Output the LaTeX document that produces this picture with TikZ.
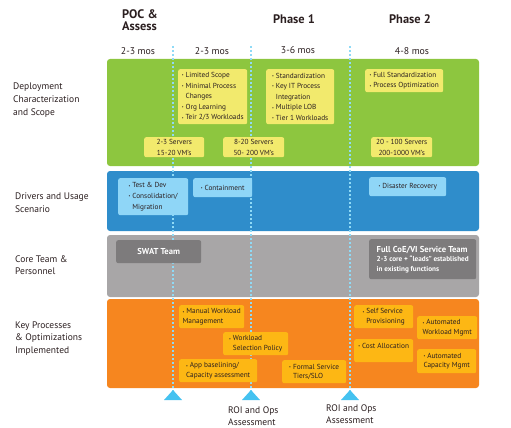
\documentclass[tikz,border=0pt]{standalone}
\usepackage{fontspec}
\setmainfont{PT Sans}
\definecolor{bandgreen}{HTML}{8DC63F}
\definecolor{bandblue}{HTML}{2F8DCB}
\definecolor{bandgray}{HTML}{A8A6A7}
\definecolor{bandorange}{HTML}{F6861F}
\definecolor{boxyellow}{HTML}{F2EA6D}
\definecolor{boxblue}{HTML}{8FD6F7}
\definecolor{boxgray}{HTML}{7D7B7C}
\definecolor{boxamber}{HTML}{FDB714}
\definecolor{markblue}{HTML}{45C2F0}
\definecolor{textdark}{HTML}{2B1F20}
\newcommand{\bul}{\raisebox{0.2ex}{\scalebox{0.55}{\textbullet}}\ }
\newcommand{\bgap}{\phantom{\bul}}
\newcommand{\smallbold}{\fontsize{7.2}{8.8}\selectfont}
\tikzstyle{band}=[rounded corners=3pt]
\tikzstyle{box}=[rectangle,rounded corners=2pt,align=left,inner sep=1.5pt,anchor=north west,text=textdark,font=\fontsize{7.3}{10.6}\selectfont]
\tikzstyle{ybox}=[box,fill=boxyellow]
\tikzstyle{bbox}=[box,fill=boxblue]
\tikzstyle{obox}=[box,fill=boxamber,font=\fontsize{7.3}{9.3}\selectfont]
\tikzstyle{gbox}=[box,fill=boxgray,text=white,font=\bfseries\fontsize{8.6}{10}\selectfont]
\tikzstyle{rowlabel}=[align=left,anchor=west,inner sep=0,text=textdark,font=\fontsize{9.5}{12.6}\selectfont]
\tikzstyle{phase}=[inner sep=0,text=textdark,font=\bfseries\fontsize{12.4}{12}\selectfont]
\tikzstyle{mos}=[inner sep=0,text=textdark,font=\fontsize{9.8}{10}\selectfont]
\tikzstyle{marker}=[markblue!60!white,line width=2pt,dash pattern=on 2pt off 2pt]

\begin{document}
\begin{tikzpicture}[x=1pt,y=-1pt]
\useasboundingbox (0,0) rectangle (511,428);
% bands
\fill[band,bandgreen] (107,59) rectangle (479,166);
\fill[band,bandblue] (107,171) rectangle (479,231);
\fill[band,bandgray] (107,235) rectangle (479,297);
\fill[band,bandorange] (107,299) rectangle (479,388);

% phase markers
\foreach \x in {173,251,350}{
	\draw[marker] (\x,46)--(\x,391);
	\fill[markblue] (\x,390)--(\x+9,400)--(\x-9,400)--cycle;
}

% header
\node[phase,align=left,anchor=west] (poc) at (122,20) {POC \&\\Assess};
\node[phase] (phase1) at (294,19) {Phase 1};
\node[phase] (phase2) at (410,19) {Phase 2};
\node[mos] (mosa) at (138,51) {2-3 mos};
\node[mos] (mosb) at (212,51) {2-3 mos};
\node[mos] (mosc) at (298,50) {3-6 mos};
\node[mos] (mosd) at (412,51) {4-8 mos};

% row labels
\node[rowlabel] (deploy) at (13,100) {Deployment\\Characterization\\and Scope};
\node[rowlabel] (drivers) at (15,202.5) {Drivers and Usage\\Scenario};
\node[rowlabel] (team) at (15,265) {Core Team \&\\Personnel};
\node[rowlabel] (process) at (15,338.5) {Key Processes\\\& Optimizations\\Implemented};

% deployment
\node[ybox,minimum width=69,minimum height=55] (scopepoc) at (178,69) {\bul Limited Scope\\\bul Minimal Process\\\bgap Changes\\\bul Org Learning\\\bul Teir 2/3 Workloads};
\node[ybox,minimum width=68,minimum height=55] (scopeone) at (266,69) {\bul Standardization\\\bul Key\ IT Process\\\bgap Integration\\\bul Multiple LOB\\\bul Tier 1 Workloads};
\node[ybox,minimum width=78,minimum height=23] (scopetwo) at (365,69) {\bul Full Standardization\\\bul Process Optimization};
\node[ybox,align=center,minimum width=60,minimum height=20] (srvpoc) at (144,137) {2-3 Servers\\15-20 VM's};
\node[ybox,align=center,minimum width=61,minimum height=20] (srvone) at (223,137) {8-20 Servers\\50- 200 VM's};
\node[ybox,align=center,minimum width=61,minimum height=20] (srvtwo) at (371,137) {20 - 100 Servers\\200-1000 VM's};

% drivers
\node[bbox,minimum width=70,minimum height=37] (testdev) at (118,178) {\bul Test \& Dev\\\bul Consolidation/\\\bgap Migration};
\node[bbox,minimum width=59,minimum height=19] (contain) at (193,178) {\bul Containment};
\node[bbox,minimum width=77,minimum height=19] (disaster) at (369,177) {\bul Disaster Recovery};

% team
\node[gbox,align=center,minimum width=85,minimum height=23] (swat) at (116,240) {SWAT Team};
\node[gbox,minimum width=107,minimum height=40] (coe) at (369,239) {Full CoE/VI Service Team\\[-1pt]\smallbold 2-3 core + ``leads'' established\\\smallbold in existing functions};

% processes
\node[obox,minimum width=65,minimum height=23] (manual) at (179,305) {\bul Manual Workload\\Management};
\node[obox,minimum width=65,minimum height=23] (select) at (223,332) {\bul Workload\\\bgap Selection Policy};
\node[obox,minimum width=78,minimum height=23] (baseline) at (179,359) {\bul App baselining/\\Capacity assessment};
\node[obox,minimum width=64,minimum height=23] (formal) at (282,360) {\bul Formal Service\\\bgap Tiers/SLO};
\node[obox,minimum width=59,minimum height=23] (selfsrv) at (354,305) {\bul Self Service\\\bgap Provisioning};
\node[obox,minimum width=59,minimum height=23] (cost) at (354,339) {\bul Cost Allocation\\~};
\node[obox,minimum width=60,minimum height=23] (autowork) at (417,316) {\bul Automated\\Workload Mgmt};
\node[obox,minimum width=59,minimum height=24] (autocap) at (417,349) {\bul Automated\\Capacity Mgmt};

% assessments
\node[rowlabel] (roione) at (228,416) {ROI and Ops\\Assessment};
\node[rowlabel] (roitwo) at (326,414) {ROI and Ops\\Assessment};
\end{tikzpicture}
\end{document}
